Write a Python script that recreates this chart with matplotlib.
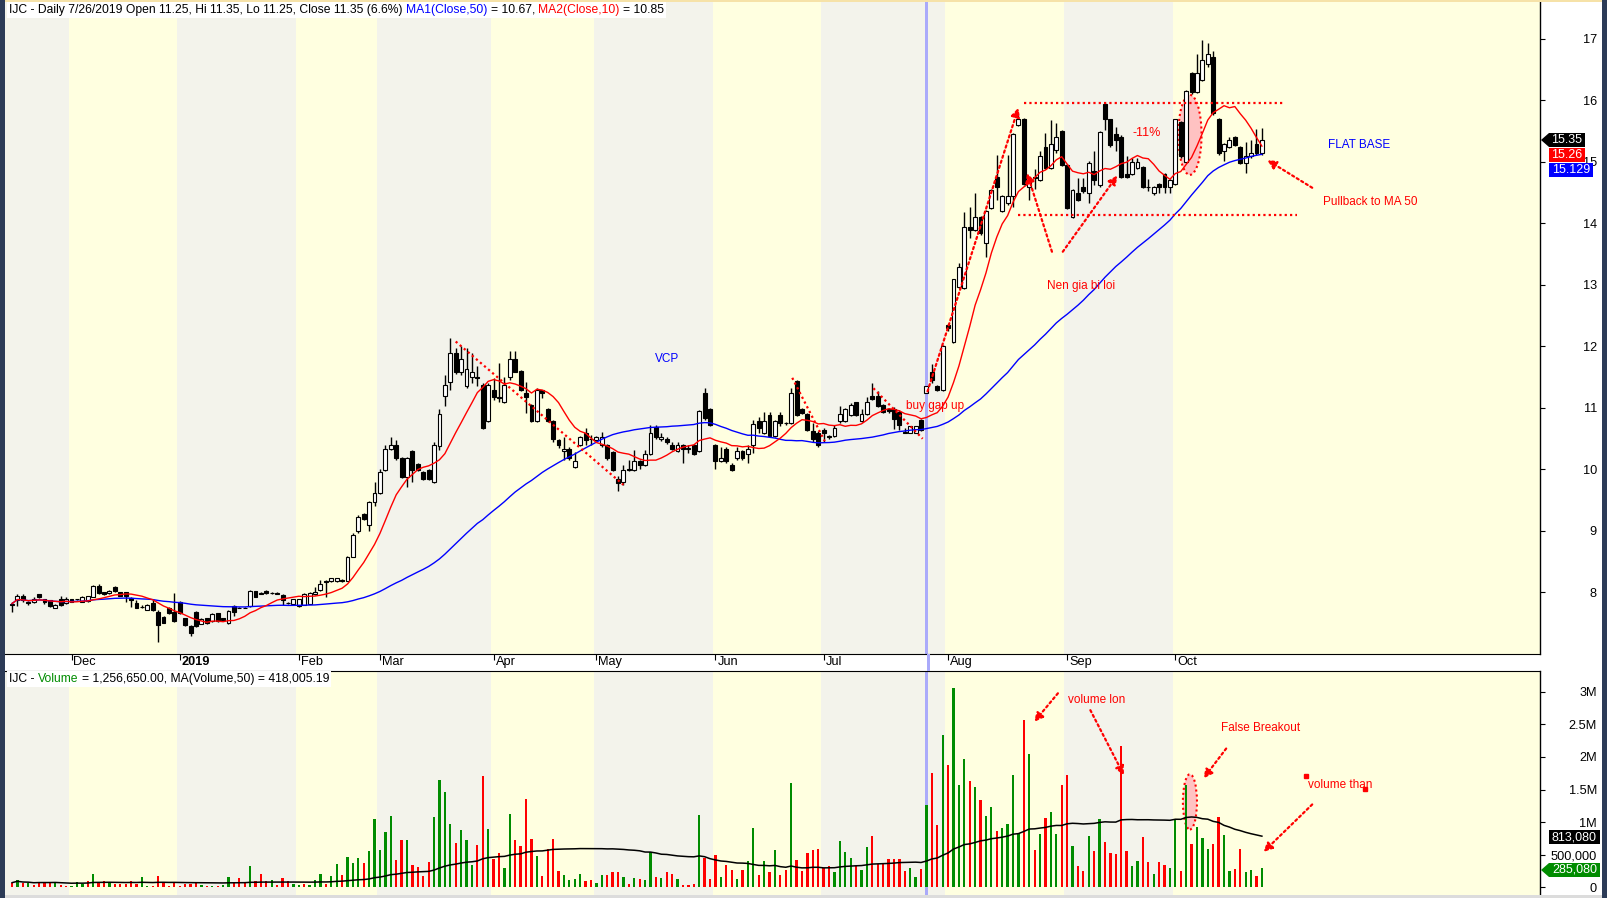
import numpy as np
import pandas as pd
import matplotlib
matplotlib.use('Agg')
import matplotlib.pyplot as plt
import matplotlib.patches as patches
from matplotlib.ticker import FuncFormatter
import matplotlib.transforms as mtransforms

# figure size in pixels
W, H = 1607, 898

#########################################################
# data (IJC daily, Nov 2018 - Oct 2019)
opens = [
    7.80, 7.87, 7.95, 7.84, 7.85, 7.97, 7.89, 7.87, 7.75, 7.89,
    7.83, 7.89, 7.89, 7.85, 7.86, 7.93, 8.11, 8.00, 7.99, 8.09,
    8.00, 8.00, 7.91, 7.83, 7.77, 7.72, 7.83, 7.69, 7.60, 7.74,
    7.68, 7.85, 7.58, 7.45, 7.69, 7.49, 7.58, 7.53, 7.66, 7.58,
    7.50, 7.78, 7.75, 7.75, 7.78, 8.02, 7.99, 8.03, 7.99, 7.99,
    7.96, 7.83, 7.82, 7.78, 7.80, 7.82, 7.97, 8.04, 8.18, 8.18,
    8.18, 8.21, 8.19, 8.58, 9.00, 9.27, 9.10, 9.47, 9.61, 9.99,
    10.34, 10.40, 10.18, 9.88, 10.30, 10.09, 9.96, 9.99, 9.79, 10.38,
    11.19, 11.43, 11.89, 11.59, 11.35, 11.50, 11.50, 11.38, 10.79, 11.29,
    11.18, 11.09, 11.50, 11.79, 11.60, 11.25, 11.05, 10.79, 11.29, 10.99,
    10.79, 10.48, 10.30, 10.34, 10.04, 10.40, 10.59, 10.50, 10.48, 10.40,
    10.40, 10.29, 9.85, 9.79, 10.00, 9.99, 10.14, 10.08, 10.25, 10.69,
    10.49, 10.50, 10.40, 10.30, 10.40, 10.35, 10.40, 10.30, 11.24, 10.99,
    10.40, 10.13, 10.34, 10.08, 10.18, 10.30, 10.25, 10.40, 10.79, 10.59,
    10.89, 10.54, 10.89, 10.76, 10.75, 11.44, 10.99, 10.90, 10.63, 10.60,
    10.64, 10.54, 10.54, 10.78, 10.78, 10.89, 11.09, 10.78, 10.90, 11.19,
    11.19, 11.05, 10.98, 10.98, 10.94, 10.61, 10.60, 10.60, 10.80, 11.25,
    11.59, 11.35, 11.29, 12.35, 12.08, 12.97, 12.95, 13.95, 13.89, 14.10,
    13.69, 14.25, 14.75, 14.20, 14.34, 14.44, 15.60, 15.69, 14.60, 14.75,
    14.71, 15.24, 14.90, 15.20, 15.50, 14.95, 14.11, 14.49, 14.59, 14.49,
    14.85, 14.63, 15.94, 15.69, 15.45, 15.41, 14.80, 14.80, 14.90, 14.91,
    14.60, 14.49, 14.64, 14.80, 14.59, 14.64, 15.65, 15.00, 16.44, 16.14,
    16.34, 16.60, 16.70, 15.69, 15.18, 15.24, 15.40, 15.24, 14.99, 15.09,
    15.29, 15.14]
highs = [
    7.85, 7.97, 7.97, 7.86, 7.92, 7.98, 7.90, 7.88, 7.82, 7.95,
    7.92, 7.90, 7.90, 7.95, 7.95, 8.12, 8.13, 8.01, 8.04, 8.10,
    8.01, 8.01, 7.92, 7.87, 7.80, 7.81, 7.90, 7.71, 7.62, 7.77,
    7.99, 7.86, 7.59, 7.47, 7.70, 7.58, 7.59, 7.66, 7.67, 7.59,
    7.72, 7.79, 7.76, 7.76, 8.04, 8.03, 8.00, 8.04, 8.00, 8.00,
    7.97, 7.84, 7.90, 7.90, 7.99, 8.00, 8.09, 8.21, 8.20, 8.24,
    8.24, 8.22, 8.60, 8.97, 9.26, 9.30, 9.48, 9.80, 10.00, 10.40,
    10.52, 10.48, 10.20, 10.20, 10.32, 10.10, 9.97, 10.00, 10.45, 10.98,
    11.54, 12.13, 11.97, 12.00, 11.97, 11.89, 11.68, 11.40, 11.40, 11.48,
    11.73, 11.50, 11.92, 11.92, 11.62, 11.43, 11.07, 11.32, 11.30, 11.00,
    10.80, 10.50, 10.53, 10.36, 10.29, 10.55, 10.67, 10.56, 10.55, 10.61,
    10.42, 10.30, 9.90, 10.07, 10.15, 10.32, 10.16, 10.32, 10.72, 10.72,
    10.59, 10.52, 10.45, 10.45, 10.42, 10.40, 10.41, 10.97, 11.32, 11.00,
    10.42, 10.37, 10.36, 10.10, 10.37, 10.32, 10.40, 10.81, 10.85, 10.94,
    10.94, 10.80, 10.94, 10.77, 11.32, 11.46, 11.00, 10.92, 10.75, 10.62,
    10.67, 10.56, 10.72, 11.03, 11.00, 11.08, 11.10, 10.99, 11.18, 11.40,
    11.27, 11.06, 11.00, 11.02, 10.96, 10.67, 10.71, 10.71, 10.82, 11.35,
    11.72, 11.37, 12.02, 12.37, 13.10, 13.35, 14.19, 14.27, 14.49, 14.12,
    14.22, 14.56, 15.11, 14.46, 15.11, 15.47, 15.76, 15.71, 14.76, 14.89,
    15.17, 15.47, 15.68, 15.64, 15.52, 14.97, 14.56, 14.74, 14.74, 15.01,
    15.17, 15.50, 15.96, 15.70, 15.57, 15.43, 15.09, 15.06, 15.06, 14.93,
    14.73, 14.61, 14.66, 14.82, 14.73, 15.70, 15.67, 16.17, 16.46, 16.76,
    16.98, 16.93, 16.80, 15.71, 15.31, 15.40, 15.42, 15.26, 15.33, 15.36,
    15.53, 15.55]
lows = [
    7.68, 7.78, 7.85, 7.80, 7.83, 7.91, 7.82, 7.77, 7.74, 7.78,
    7.82, 7.84, 7.88, 7.84, 7.85, 7.92, 7.98, 7.96, 7.98, 8.01,
    7.94, 7.85, 7.77, 7.74, 7.74, 7.71, 7.70, 7.19, 7.50, 7.65,
    7.52, 7.65, 7.46, 7.30, 7.44, 7.48, 7.49, 7.52, 7.52, 7.54,
    7.49, 7.61, 7.74, 7.74, 7.77, 7.92, 7.98, 7.98, 7.98, 7.97,
    7.80, 7.82, 7.81, 7.77, 7.79, 7.81, 7.96, 8.03, 7.93, 8.17,
    8.17, 8.17, 8.18, 8.57, 8.97, 9.18, 9.00, 9.40, 9.60, 9.98,
    10.32, 10.15, 9.86, 9.72, 9.80, 9.98, 9.83, 9.83, 9.78, 10.32,
    11.03, 11.29, 11.55, 11.54, 11.33, 11.40, 11.35, 10.66, 10.77, 11.13,
    11.10, 11.08, 11.45, 11.58, 11.28, 10.91, 10.77, 10.77, 11.16, 10.77,
    10.45, 10.35, 10.15, 10.15, 10.02, 10.38, 10.40, 10.40, 10.46, 10.37,
    10.16, 9.97, 9.65, 9.75, 9.98, 9.98, 10.00, 10.06, 10.23, 10.50,
    10.47, 10.42, 10.31, 10.28, 10.10, 10.27, 10.23, 10.28, 10.80, 10.70,
    10.01, 10.12, 10.10, 9.97, 10.16, 10.16, 10.10, 10.26, 10.60, 10.57,
    10.52, 10.52, 10.70, 10.73, 10.74, 10.87, 10.90, 10.62, 10.45, 10.37,
    10.44, 10.50, 10.53, 10.76, 10.77, 10.87, 10.87, 10.77, 10.89, 11.13,
    11.01, 10.91, 10.91, 10.65, 10.64, 10.59, 10.59, 10.60, 10.62, 11.25,
    11.40, 11.27, 11.28, 12.25, 12.05, 12.95, 12.93, 13.76, 13.87, 13.82,
    13.46, 14.23, 14.38, 14.18, 14.30, 14.27, 15.58, 14.62, 14.38, 14.56,
    14.69, 14.88, 14.88, 15.14, 14.93, 14.23, 14.09, 14.36, 14.50, 14.33,
    14.63, 14.60, 15.52, 15.25, 15.17, 14.74, 14.74, 14.78, 14.88, 14.57,
    14.52, 14.47, 14.50, 14.50, 14.50, 14.62, 15.07, 14.98, 16.10, 16.12,
    16.32, 16.55, 15.77, 15.12, 15.02, 15.22, 15.26, 14.97, 14.82, 15.07,
    15.12, 15.12]
closes = [
    7.82, 7.95, 7.87, 7.83, 7.89, 7.92, 7.84, 7.78, 7.80, 7.80,
    7.89, 7.85, 7.89, 7.92, 7.94, 8.10, 7.99, 7.97, 8.03, 8.02,
    7.95, 7.95, 7.87, 7.75, 7.77, 7.80, 7.71, 7.47, 7.51, 7.66,
    7.53, 7.66, 7.47, 7.34, 7.45, 7.57, 7.50, 7.65, 7.53, 7.55,
    7.70, 7.69, 7.74, 7.74, 8.03, 7.93, 7.98, 7.99, 7.99, 7.98,
    7.88, 7.83, 7.89, 7.89, 7.97, 7.99, 8.01, 8.13, 8.17, 8.23,
    8.23, 8.18, 8.58, 8.94, 9.22, 9.19, 9.47, 9.61, 9.96, 10.34,
    10.39, 10.18, 9.88, 10.18, 9.99, 9.99, 9.84, 9.84, 10.39, 10.90,
    11.38, 11.89, 11.59, 11.79, 11.64, 11.59, 11.49, 10.68, 11.38, 11.18,
    11.17, 11.38, 11.79, 11.59, 11.29, 11.18, 10.79, 11.29, 11.25, 10.79,
    10.50, 10.40, 10.34, 10.18, 10.14, 10.53, 10.48, 10.49, 10.53, 10.53,
    10.18, 9.99, 9.78, 9.99, 9.99, 10.14, 10.08, 10.25, 10.59, 10.53,
    10.53, 10.44, 10.33, 10.40, 10.34, 10.34, 10.25, 10.95, 10.83, 10.73,
    10.14, 10.18, 10.13, 9.99, 10.30, 10.18, 10.34, 10.74, 10.68, 10.79,
    10.54, 10.79, 10.75, 10.75, 11.25, 10.89, 10.91, 10.64, 10.49, 10.40,
    10.60, 10.53, 10.67, 10.90, 10.99, 11.05, 10.89, 10.90, 11.09, 11.14,
    11.03, 10.93, 10.95, 10.82, 10.73, 10.60, 10.70, 10.70, 10.64, 11.35,
    11.46, 11.29, 12.00, 12.30, 13.09, 13.29, 13.94, 13.89, 14.10, 13.84,
    14.20, 14.54, 14.59, 14.44, 14.44, 15.45, 15.69, 14.64, 14.70, 14.74,
    15.09, 14.90, 15.29, 15.40, 14.95, 14.25, 14.54, 14.38, 14.53, 14.99,
    14.71, 15.49, 15.69, 15.28, 15.36, 14.76, 14.76, 15.00, 15.00, 14.59,
    14.59, 14.59, 14.59, 14.59, 14.71, 15.69, 15.09, 16.15, 16.14, 16.45,
    16.65, 16.75, 15.79, 15.14, 15.29, 15.36, 15.28, 14.99, 15.09, 15.14,
    15.14, 15.35]

# volume in thousands of shares
volumes = [
    67, 108, 56, 67, 31, 82, 67, 72, 82, 31,
    15, 20, 82, 46, 97, 200, 82, 97, 82, 41,
    41, 51, 97, 51, 154, 20, 10, 169, 82, 20,
    82, 10, 41, 51, 67, 31, 20, 20, 20, 31,
    154, 82, 133, 67, 323, 92, 200, 92, 108, 31,
    133, 92, 41, 31, 41, 31, 108, 200, 51, 169,
    354, 185, 462, 369, 446, 369, 554, 1046, 569, 851,
    1092, 415, 723, 723, 338, 313, 169, 385, 1077, 1646,
    1462, 969, 677, 877, 723, 338, 646, 1708, 892, 431,
    518, 292, 1123, 723, 636, 1354, 738, 477, 169, 585,
    738, 246, 185, 108, 123, 200, 92, 108, 62, 185,
    185, 231, 231, 154, 46, 140, 123, 108, 533, 159,
    138, 231, 200, 123, 36, 36, 51, 1108, 451, 123,
    492, 159, 338, 262, 123, 262, 400, 908, 185, 400,
    231, 569, 185, 262, 1600, 415, 246, 523, 569, 585,
    287, 323, 231, 708, 538, 446, 323, 262, 615, 785,
    354, 354, 431, 431, 431, 246, 292, 154, 277, 1257,
    1754, 954, 2338, 1877, 3062, 1569, 1969, 1631, 1538, 1338,
    1092, 1231, 862, 908, 969, 1723, 826, 2569, 2046, 569,
    815, 1062, 1154, 815, 1569, 1723, 631, 323, 246, 785,
    554, 1046, 692, 523, 508, 2169, 554, 323, 400, 769,
    385, 200, 385, 338, 292, 1046, 246, 1569, 662, 923,
    754, 585, 662, 1077, 800, 246, 277, 585, 231, 262,
    169, 285]

# volume bar colours as drawn: g = up day, r = down day
vol_dirs = ("rgrgrrrrgr" "rgggrgrrgr" "rrrrggrrrr" "rrrrrgrgrg" "grrrgrrrgr"
            "rrggrgggrg" "grgggrgggg" "grrgrrrrgg" "ggrgggrrgr" "rggrrrrgrr"
            "rrggggrrgg" "rrrgrgrggr" "grrgrrrgrr" "rgrrgrggrg" "rgrrgrrrrr"
            "rrggggrggr" "rrrrrrggrg" "rrgrgggrgr" "ggrggggrgr" "grggrrgrrg"
            "rgrrrrrggr" "rgrrggrgrg" "ggrrggrrgg" "rg")

# first bar of each month
month_starts = [11, 31, 53, 68, 89, 108, 130, 150, 173, 195, 215]
month_labels = ['Dec', '2019', 'Feb', 'Mar', 'Apr', 'May', 'Jun', 'Jul', 'Aug', 'Sep', 'Oct']

price_ticks = [8, 9, 10, 11, 12, 13, 14, 15, 16, 17]
vol_ticks = [0, 500000, 1000000, 1500000, 2000000, 2500000, 3000000]

selected_bar = 169    # 7/26/2019

# last values shown in the boxes on the right
last_close_txt, last_ma10_txt, last_ma50_txt = '15.35', '15.26', '15.129'
last_volma_txt, last_vol_txt = '813,080', '285,080'

#########################################################
# colours
YELLOW = '#FFFFE0'
GREY = '#F3F3EB'
GREEN = '#008C00'
RED = '#FF0000'
BLUE = '#0000FF'
HILITE = '#AAAAFA'
NAVY = '#2C3B57'

plt.rcParams['font.family'] = ['Liberation Sans', 'DejaVu Sans']
plt.rcParams['font.size'] = 8

TICK_FS = 9.2
HEAD_FS = 8.7
NOTE_FS = 8.5


# pixel -> figure fraction
def fx(x):
    return x / W


def fy(y):
    return 1 - y / H


o = np.array(opens)
h = np.array(highs)
l = np.array(lows)
c = np.array(closes)
v = np.array(volumes) * 1000.0
x = np.arange(len(c))

ma50 = pd.Series(c).rolling(50, min_periods=1).mean()
ma10 = pd.Series(c).rolling(10, min_periods=1).mean()
vol_ma = pd.Series(v).rolling(50, min_periods=1).mean()

XMIN, XMAX = -1.3, 282.4

fig = plt.figure(figsize=(W / 100, H / 100), dpi=100)
fig.patch.set_facecolor('white')

ax = fig.add_axes([fx(5), fy(654), fx(1540) - fx(5), fy(2) - fy(654)])
axv = fig.add_axes([fx(5), fy(895), fx(1540) - fx(5), fy(671) - fy(895)], sharex=ax)


# alternating month bands
def shade_months(a):
    edges = [XMIN] + [m - 0.5 for m in month_starts] + [XMAX]
    for k in range(len(edges) - 1):
        col = GREY if k % 2 == 0 else YELLOW
        a.axvspan(edges[k], edges[k + 1], color=col, lw=0, zorder=0)
    a.axvspan(selected_bar - 0.33, selected_bar + 0.33, color=HILITE, lw=0, zorder=1)


# right hand axis with labels right-aligned near the edge
def prep_axis(a, ticks):
    a.set_yticks(ticks)
    a.yaxis.tick_right()
    a.tick_params(axis='y', direction='out', length=3.6, width=0.8, pad=37.4,
                  labelsize=TICK_FS, colors='black')
    for t in a.yaxis.get_major_ticks():
        t.label2.set_horizontalalignment('right')
    a.spines['left'].set_visible(False)
    a.spines['right'].set_linewidth(1)


# ---------------- price panel ----------------
shade_months(ax)
up = c >= o
body_lo = np.minimum(o, c)
body_h = np.abs(c - o)
ax.vlines(x, l, h, color='black', lw=1, zorder=3)
ax.bar(x[up], body_h[up], bottom=body_lo[up], width=0.72, facecolor='white',
       edgecolor='black', linewidth=0.8, zorder=4)
ax.bar(x[~up], body_h[~up], bottom=body_lo[~up], width=0.72, facecolor='black',
       edgecolor='black', linewidth=0.8, zorder=4)
ax.plot(x, ma50, color=BLUE, lw=1, zorder=5)
ax.plot(x, ma10, color=RED, lw=1, zorder=5)

ax.set_xlim(XMIN, XMAX)
ax.set_ylim(7.0, 17.6)
prep_axis(ax, price_ticks)
ax.spines['top'].set_visible(False)
ax.set_xticks(month_starts)
ax.set_xticklabels([])
ax.tick_params(axis='x', direction='out', length=4.3, width=0.8)

lab_tr = mtransforms.blended_transform_factory(ax.transData, ax.transAxes)
for m, lab in zip(month_starts, month_labels):
    ax.text(m + 0.35, -(662 - 654) / 652, lab, transform=lab_tr, ha='left', va='center',
            fontsize=TICK_FS, fontweight='bold' if lab == '2019' else 'normal')

# ---------------- volume panel ----------------
shade_months(axv)
vcols = [GREEN if d == 'g' else RED for d in vol_dirs]
axv.bar(x, v, width=0.42, color=vcols, lw=0, zorder=3)
axv.plot(x, vol_ma, color='black', lw=1.1, zorder=4)
axv.set_ylim(-0.123e6, 3.323e6)
prep_axis(axv, vol_ticks)
axv.spines['bottom'].set_visible(False)
axv.tick_params(axis='x', bottom=False, labelbottom=False)


def vol_fmt(val, pos):
    if val == 0:
        return '0'
    if val < 1e6:
        return f'{val:,.0f}'
    return f'{val / 1e6:g}M'


axv.yaxis.set_major_formatter(FuncFormatter(vol_fmt))

# ---------------- annotations ----------------
DOT = (0, (1, 1.4))


def dotted(a, x1, y1, x2, y2):
    a.plot([x1, x2], [y1, y2], color=RED, lw=1.6, linestyle=DOT, zorder=6,
           solid_capstyle='butt', dash_capstyle='butt')


def arrow(a, x1, y1, x2, y2):
    a.annotate('', xy=(x2, y2), xytext=(x1, y1), zorder=6,
               arrowprops=dict(arrowstyle='-|>', color=RED, lw=1.6, linestyle=DOT,
                               mutation_scale=13, shrinkA=0, shrinkB=0))


dotted(ax, 82, 12.08, 113, 9.75)
dotted(ax, 144.2, 11.49, 150.2, 10.46)
dotted(ax, 159.2, 11.32, 168.3, 10.50)
arrow(ax, 169.2, 11.27, 186.0, 15.88)
dotted(ax, 187, 15.95, 235, 15.95)
dotted(ax, 186, 14.13, 237.5, 14.13)
arrow(ax, 192.2, 13.54, 187.6, 14.82)
arrow(ax, 194.2, 13.54, 204.3, 14.78)
arrow(ax, 240.3, 14.58, 232.0, 15.03)

ax.add_patch(patches.Ellipse((217.7, 15.44), 4.3, 1.3, facecolor='#FFC2C2',
                             edgecolor=RED, lw=1.5, linestyle=DOT, zorder=2))

ax.text(121, 11.80, 'VCP', color=BLUE, ha='center', va='center', fontsize=NOTE_FS, zorder=7)
ax.text(165.2, 11.03, 'buy gap up', color=RED, ha='left', va='center', fontsize=NOTE_FS, zorder=7)
ax.text(191.3, 12.98, 'Nen gia bi loi', color=RED, ha='left', va='center', fontsize=NOTE_FS, zorder=7)
ax.text(209.7, 15.47, '-11%', color=RED, ha='center', va='center', fontsize=9, zorder=7)
ax.text(243.2, 15.28, 'FLAT BASE', color=BLUE, ha='left', va='center', fontsize=NOTE_FS, zorder=7)
ax.text(242.3, 14.35, 'Pullback to MA 50', color=RED, ha='left', va='center', fontsize=NOTE_FS, zorder=7)

arrow(axv, 193.3, 2.98e6, 188.9, 2.54e6)
arrow(axv, 199.3, 2.72e6, 205.5, 1.72e6)
arrow(axv, 224.4, 2.13e6, 220.2, 1.67e6)
arrow(axv, 240.3, 1.27e6, 231.3, 0.54e6)
axv.add_patch(patches.Ellipse((217.7, 1.31e6), 2.6, 0.85e6, facecolor='#FFC2C2',
                              edgecolor=RED, lw=1.5, linestyle=DOT, zorder=2))
axv.plot([239.2, 250.0], [1.71e6, 1.51e6], linestyle='none', marker='s', ms=3.5,
         color=RED, zorder=6)
axv.text(195.1, 2.88e6, 'volume lon', color=RED, ha='left', va='center', fontsize=NOTE_FS, zorder=7)
axv.text(223.4, 2.45e6, 'False Breakout', color=RED, ha='left', va='center', fontsize=NOTE_FS, zorder=7)
axv.text(239.6, 1.57e6, 'volume than', color=RED, ha='left', va='center', fontsize=NOTE_FS, zorder=7)


# ---------------- headers ----------------
# each piece is chained to the right of the previous one, inside the given axes
def header(a, parts, px, py):
    prev = fig.text(fx(px), fy(py), parts[0][0], color=parts[0][1], ha='left', va='center',
                    fontsize=HEAD_FS, bbox=dict(facecolor='white', edgecolor='none', pad=1.6),
                    zorder=8)
    for s, col in parts[1:]:
        prev = a.annotate(s, xy=(1, 0.5), xycoords=prev, xytext=(2.4, 0),
                          textcoords='offset points', ha='left', va='center', color=col,
                          fontsize=HEAD_FS, bbox=dict(facecolor='white', edgecolor='none', pad=1.6),
                          zorder=8)


header(ax, [('IJC - Daily 7/26/2019 Open 11.25, Hi 11.35, Lo 11.25, Close 11.35 (6.6%)', 'black'),
            ('MA1(Close,50)', BLUE), ('= 10.67,', 'black'), ('MA2(Close,10)', RED),
            ('= 10.85', 'black')], 9, 10)
header(axv, [('IJC -', 'black'), ('Volume', GREEN),
             ('= 1,256,650.00, MA(Volume,50) = 418,005.19', 'black')], 9, 679)


# ---------------- value boxes on the right axis ----------------
def value_box(txt, x1, x2, yc, col, pointer=False):
    top, bot = yc - 7, yc + 7
    pts = [(x1, top), (x2, top), (x2, bot), (x1, bot)]
    if pointer:
        pts = [(x1 - 8, yc)] + pts
    poly = patches.Polygon([(fx(px), fy(py)) for px, py in pts], closed=True,
                           transform=fig.transFigure, facecolor=col, edgecolor='none', zorder=5)
    fig.add_artist(poly)
    fig.text(fx((x1 + x2) / 2), fy(yc), txt, color='white', ha='center', va='center',
             fontsize=9, zorder=6)


value_box(last_close_txt, 1549, 1585, 140, 'black', pointer=True)
value_box(last_ma10_txt, 1549, 1585, 155, RED)
value_box(last_ma50_txt, 1549, 1593, 170, BLUE)
value_box(last_volma_txt, 1549, 1600, 837, 'black')
value_box(last_vol_txt, 1549, 1600, 870, GREEN, pointer=True)

# selected bar line through the date strip, frame strips
fig.add_artist(patches.Rectangle((fx(926.5), fy(671)), 3.4 / W, 17 / H,
                                 transform=fig.transFigure, color=HILITE, lw=0, zorder=1))
fig.add_artist(patches.Rectangle((0, 0), 5 / W, 1, transform=fig.transFigure,
                                 color=NAVY, lw=0, zorder=9))
fig.add_artist(patches.Rectangle((fx(1602), 0), 5 / W, 1, transform=fig.transFigure,
                                 color=NAVY, lw=0, zorder=9))
fig.add_artist(patches.Rectangle((fx(5), fy(2)), 1597 / W, 2 / H, transform=fig.transFigure,
                                 color='#F6E2A8', lw=0, zorder=9))
fig.add_artist(patches.Rectangle((fx(5), 0), 1597 / W, 3 / H, transform=fig.transFigure,
                                 color='#DCDCDC', lw=0, zorder=9))

fig.savefig('out.png', dpi=100)
